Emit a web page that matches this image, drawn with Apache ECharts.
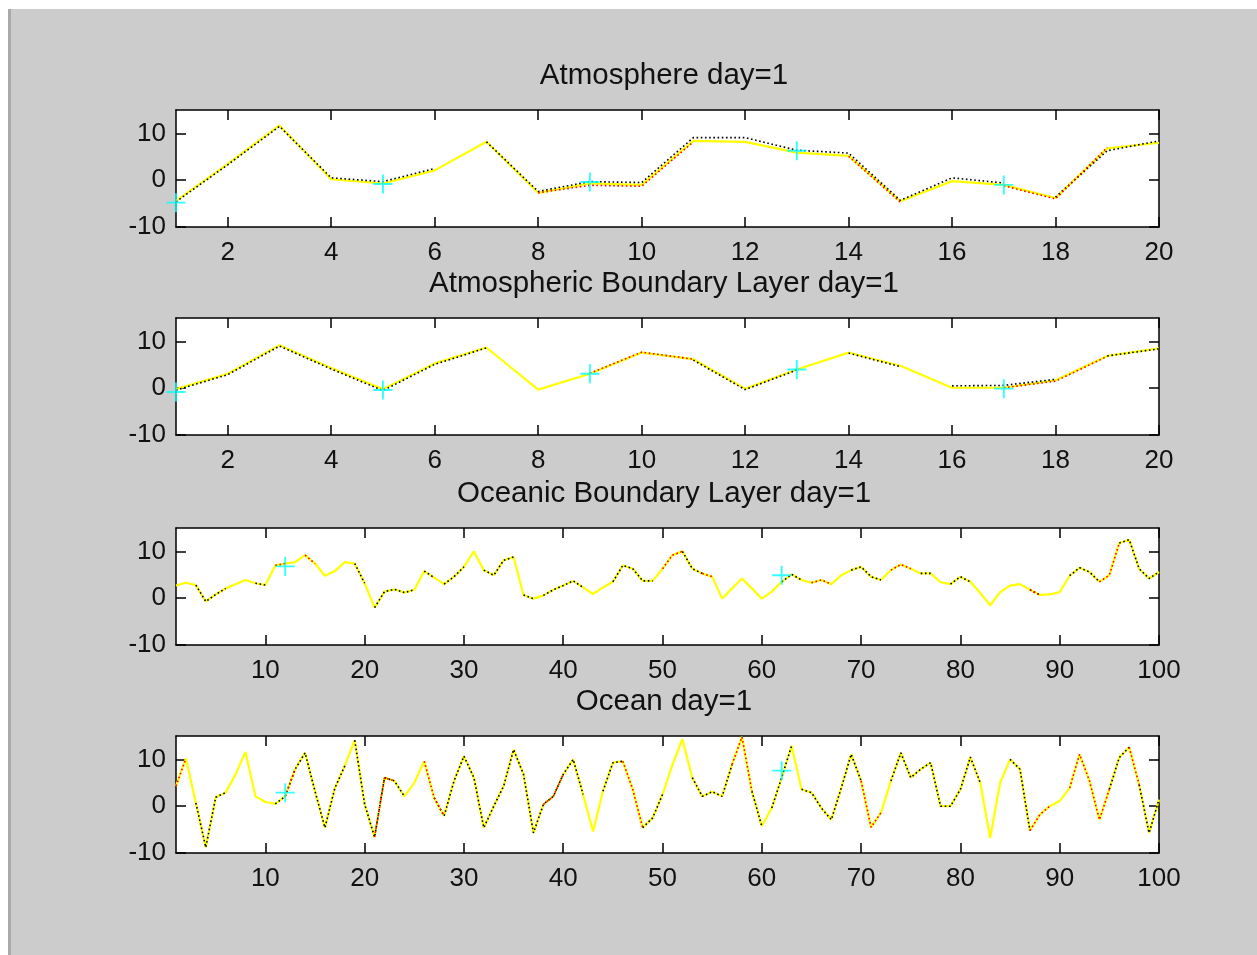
<!DOCTYPE html>
<html>
<head>
<meta charset="utf-8">
<title>day=1</title>
<script src="https://cdn.jsdelivr.net/npm/echarts@6/dist/echarts.min.js"></script>
<style>
  html, body { margin: 0; padding: 0; background: #ffffff; width: 1257px; height: 955px; overflow: hidden; }
  #frame { position: absolute; left: 8px; top: 9px; right: 0; bottom: 0; background: #cccccc; border-left: 3px solid #a9a9a9; }
  #chart { position: absolute; left: 0; top: 0; width: 1257px; height: 955px; }
</style>
</head>
<body>
<div id="frame"></div>
<div id="chart"></div>
<script>
// ---- tick labels ----
const atmTicks = [2, 4, 6, 8, 10, 12, 14, 16, 18, 20];
const oceanTicks = [10, 20, 30, 40, 50, 60, 70, 80, 90, 100];
const yTicks = [-10, 0, 10];

// ---- Atmosphere (20 grid points) ----
const atmTruth    = [-4.4, 3.5, 11.7, 0.2, -0.7, 2.1, 8.2, -2.7, -0.7, -1.0, 8.4, 8.2, 5.9, 5.2, -4.5, -0.2, -1.0, -3.8, 6.8, 8.0];
const atmForecast = [-4.6, 3.3, 11.5, 0.5, -0.3, 2.5, 8.2, -2.4, -0.3, -0.5, 9.1, 9.1, 6.4, 5.8, -4.3, 0.5, -0.6, -3.6, 6.3, 8.4];
const atmForecastSpans = [[1, 6], [7, 17], [18, 20]];
const atmAnalysis = [null, null, null, null, null, null, null, -2.7, -1.1, -1.3, 8.2, null, null, 5.1, -4.7, null, -1.2, -4.0, 7.0, null];
const atmAnalysisSpans = [[8, 11], [14, 15], [17, 19]];
const atmObsX = [1, 5, 9, 13, 17];
const atmObs  = [-4.8, -0.8, -0.4, 6.3, -1.0];

// ---- Atmospheric Boundary Layer (20 grid points) ----
const ablTruth    = [-0.2, 3.1, 9.2, 4.3, -0.2, 5.3, 8.7, -0.3, 3.1, 7.6, 6.2, -0.1, 4.0, 7.6, 4.8, 0.1, 0.1, 1.7, 6.9, 8.5];
const ablForecast = [-0.4, 2.9, 9.0, 4.1, -0.5, 5.1, 8.6, -0.3, 3.1, 7.6, 6.0, -0.3, 3.9, 7.5, 4.6, 0.5, 0.6, 1.9, 6.9, 8.4];
const ablForecastSpans = [[1, 7], [11, 13], [14, 15], [16, 18], [19, 20]];
const ablAnalysis = [null, null, null, null, null, null, null, null, 3.2, 7.7, 6.2, null, null, null, null, null, 0.1, 1.5, 6.8, null];
const ablAnalysisSpans = [[9, 11], [17, 19]];
const ablObsX = [1, 5, 9, 13, 17];
const ablObs  = [-0.8, -0.4, 3.1, 4.0, -0.1];

// ---- Oceanic Boundary Layer (100 grid points) ----
const oblTruth = [
  2.7, 3.3, 2.8, -0.7, 0.8, 2.1, 3.0, 3.9, 3.2, 2.8,
  7.0, 7.4, 7.7, 9.2, 7.4, 4.8, 5.8, 7.7, 7.4, 3.2,
  -2.0, 1.4, 1.9, 1.2, 1.8, 5.8, 4.4, 3.0, 4.6, 6.7,
  10.0, 6.0, 4.9, 8.1, 8.8, 0.7, -0.1, 0.6, 1.8, 2.7,
  3.7, 2.3, 0.9, 2.3, 3.5, 7.0, 6.3, 3.7, 3.7, 6.3,
  9.2, 10.0, 6.3, 5.3, 4.6, -0.1, 2.1, 4.2, 2.1, -0.1,
  1.4, 3.5, 5.1, 3.9, 3.3, 3.9, 3.0, 4.9, 6.0, 6.7,
  4.6, 3.9, 6.0, 7.2, 6.3, 5.3, 5.3, 3.4, 3.0, 4.6,
  3.5, 1.1, -1.5, 1.3, 2.7, 3.0, 1.8, 0.7, 0.8, 1.3,
  4.8, 6.5, 5.6, 3.5, 4.9, 11.8, 12.5, 6.3, 4.2, 5.6
];
// forecast / analysis coincide with the truth to plotting precision; spans mark where they are drawn
const oblForecastSpans = [[3, 6], [9, 10], [19, 20], [21, 25], [26, 27], [28, 30], [32, 35], [36, 37], [38, 42], [45, 49],
  [52, 54], [62, 64], [69, 72], [76, 77], [79, 81], [87, 88], [91, 94], [96, 100]];
const oblAnalysisSpans = [[11, 12], [14, 15], [50, 52], [54, 55], [65, 67], [73, 75], [87, 88], [94, 96]];
const oblObsX = [12, 62];
const oblObs  = [6.8, 4.9];

// ---- Ocean (100 grid points) ----
const ocnTruth = [
  4.3, 10.2, 0.7, -8.8, 1.9, 2.9, 6.8, 11.6, 2.1, 0.9,
  0.5, 2.1, 7.9, 11.4, 3.2, -4.6, 3.9, 8.6, 14.1, 0.4,
  -6.6, 6.1, 5.4, 2.1, 5.0, 9.6, 1.8, -2.1, 5.4, 10.7,
  6.1, -4.6, 0.0, 4.3, 12.1, 6.8, -5.7, 0.4, 2.1, 6.8,
  10.0, 2.5, -5.4, 3.2, 9.3, 9.6, 3.6, -4.6, -2.5, 2.5,
  8.9, 14.3, 6.1, 2.1, 3.1, 2.1, 8.9, 14.8, 3.2, -4.3,
  -0.4, 6.1, 12.9, 3.6, 2.9, -0.4, -2.9, 3.9, 11.1, 5.4,
  -4.5, -1.4, 5.4, 11.4, 6.1, 7.9, 9.3, 0.0, 0.0, 3.6,
  10.5, 5.0, -6.8, 5.0, 10.0, 7.9, -5.2, -1.8, 0.0, 1.1,
  3.9, 11.1, 5.4, -2.9, 3.6, 10.4, 12.6, 4.6, -5.7, 1.4
];
const ocnForecastSpans = [[3, 6], [11, 18], [19, 24], [27, 42], [44, 46], [48, 50], [53, 57], [59, 60], [61, 63],
  [64, 70], [73, 82], [85, 87], [95, 97], [98, 100]];
const ocnAnalysisSpans = [[1, 2], [12, 13], [21, 23], [26, 28], [38, 40], [46, 48], [57, 59], [70, 72], [87, 89], [91, 95], [97, 98]];
const ocnObsX = [12, 62];
const ocnObs  = [2.9, 7.6];

// ---- panels ----
const panels = [
  { title: 'Atmosphere day=1', top: 110, xMax: 20, ticks: atmTicks,
    truth: atmTruth, fc: atmForecast, fcSpans: atmForecastSpans, an: atmAnalysis, anSpans: atmAnalysisSpans, obsX: atmObsX, obs: atmObs },
  { title: 'Atmospheric Boundary Layer day=1', top: 318, xMax: 20, ticks: atmTicks,
    truth: ablTruth, fc: ablForecast, fcSpans: ablForecastSpans, an: ablAnalysis, anSpans: ablAnalysisSpans, obsX: ablObsX, obs: ablObs },
  { title: 'Oceanic Boundary Layer day=1', top: 528, xMax: 100, ticks: oceanTicks,
    truth: oblTruth, fc: oblTruth, fcSpans: oblForecastSpans, an: oblTruth, anSpans: oblAnalysisSpans, obsX: oblObsX, obs: oblObs },
  { title: 'Ocean day=1', top: 736, xMax: 100, ticks: oceanTicks,
    truth: ocnTruth, fc: ocnTruth, fcSpans: ocnForecastSpans, an: ocnTruth, anSpans: ocnAnalysisSpans, obsX: ocnObsX, obs: ocnObs }
];

const FONT = '"Liberation Sans", Arial, Helvetica, sans-serif';
const INK = '#111111';
const PLOT_LEFT = 176, PLOT_WIDTH = 983, PLOT_HEIGHT = 117;

// pieces of a trace between span endpoints, with gaps between pieces
function trace(values, spans) {
  const out = [];
  spans.forEach(([a, b]) => {
    for (let i = a; i <= b; i++) out.push([i, values[i - 1]]);
    out.push([b + 0.5, '-']);
  });
  return out;
}

const plusPath = 'path://M9,0 L11,0 L11,9 L20,9 L20,11 L11,11 L11,20 L9,20 L9,11 L0,11 L0,9 L9,9 Z';

const grid = [], xAxis = [], yAxis = [], series = [], graphic = [];

panels.forEach((p, k) => {
  grid.push({ left: PLOT_LEFT, top: p.top, width: PLOT_WIDTH, height: PLOT_HEIGHT,
    show: true, backgroundColor: '#ffffff', borderWidth: 0, outerBoundsMode: 'none', containLabel: false });

  const axLine = { show: true, onZero: false, lineStyle: { color: '#000', width: 1.5 } };
  const tick = (vals) => ({ show: true, inside: true, length: 10, customValues: vals, lineStyle: { color: '#000', width: 1.5 } });

  xAxis.push({ gridIndex: k, type: 'value', min: 1, max: p.xMax, position: 'bottom',
    axisLine: axLine, axisTick: tick(p.ticks), splitLine: { show: false },
    axisLabel: { show: true, customValues: p.ticks, margin: 13, color: INK, fontSize: 26, fontFamily: FONT } });
  xAxis.push({ gridIndex: k, type: 'value', min: 1, max: p.xMax, position: 'top',
    axisLine: axLine, axisTick: tick(p.ticks), splitLine: { show: false }, axisLabel: { show: false } });

  yAxis.push({ gridIndex: k, type: 'value', min: -10, max: 15, position: 'left',
    axisLine: axLine, axisTick: tick(yTicks), splitLine: { show: false },
    axisLabel: { show: true, customValues: yTicks, margin: 10, color: INK, fontSize: 26, fontFamily: FONT } });
  yAxis.push({ gridIndex: k, type: 'value', min: -10, max: 15, position: 'right',
    axisLine: axLine, axisTick: tick(yTicks), splitLine: { show: false }, axisLabel: { show: false } });

  const xi = 2 * k, yi = 2 * k;

  series.push({ type: 'line', xAxisIndex: xi, yAxisIndex: yi, z: 2,
    data: p.truth.map((v, i) => [i + 1, v]), showSymbol: false, silent: true,
    lineStyle: { color: '#ffff00', width: 2.2 } });
  series.push({ type: 'line', xAxisIndex: xi, yAxisIndex: yi, z: 3,
    data: trace(p.fc, p.fcSpans), showSymbol: false, silent: true, connectNulls: false,
    lineStyle: { color: '#000000', width: 1.6, type: [1.6, 2.6] } });
  series.push({ type: 'line', xAxisIndex: xi, yAxisIndex: yi, z: 4,
    data: trace(p.an, p.anSpans), showSymbol: false, silent: true, connectNulls: false,
    lineStyle: { color: '#ff0000', width: 1.6, type: [1.6, 2.6] } });
  series.push({ type: 'scatter', xAxisIndex: xi, yAxisIndex: yi, z: 5, clip: false, silent: true,
    data: p.obsX.map((x, i) => [x, p.obs[i]]), symbol: plusPath, symbolSize: 19,
    itemStyle: { color: '#00ffff' } });

  graphic.push({ type: 'text', x: 664, y: p.top - 34, silent: true,
    style: { text: p.title, fill: INK, font: '29.5px ' + FONT, textAlign: 'center', textVerticalAlign: 'middle' } });
});

const chart = echarts.init(document.getElementById('chart'), null, { renderer: 'canvas' });
chart.setOption({
  animation: false,
  backgroundColor: 'transparent',
  grid, xAxis, yAxis, series, graphic
});
</script>
</body>
</html>
